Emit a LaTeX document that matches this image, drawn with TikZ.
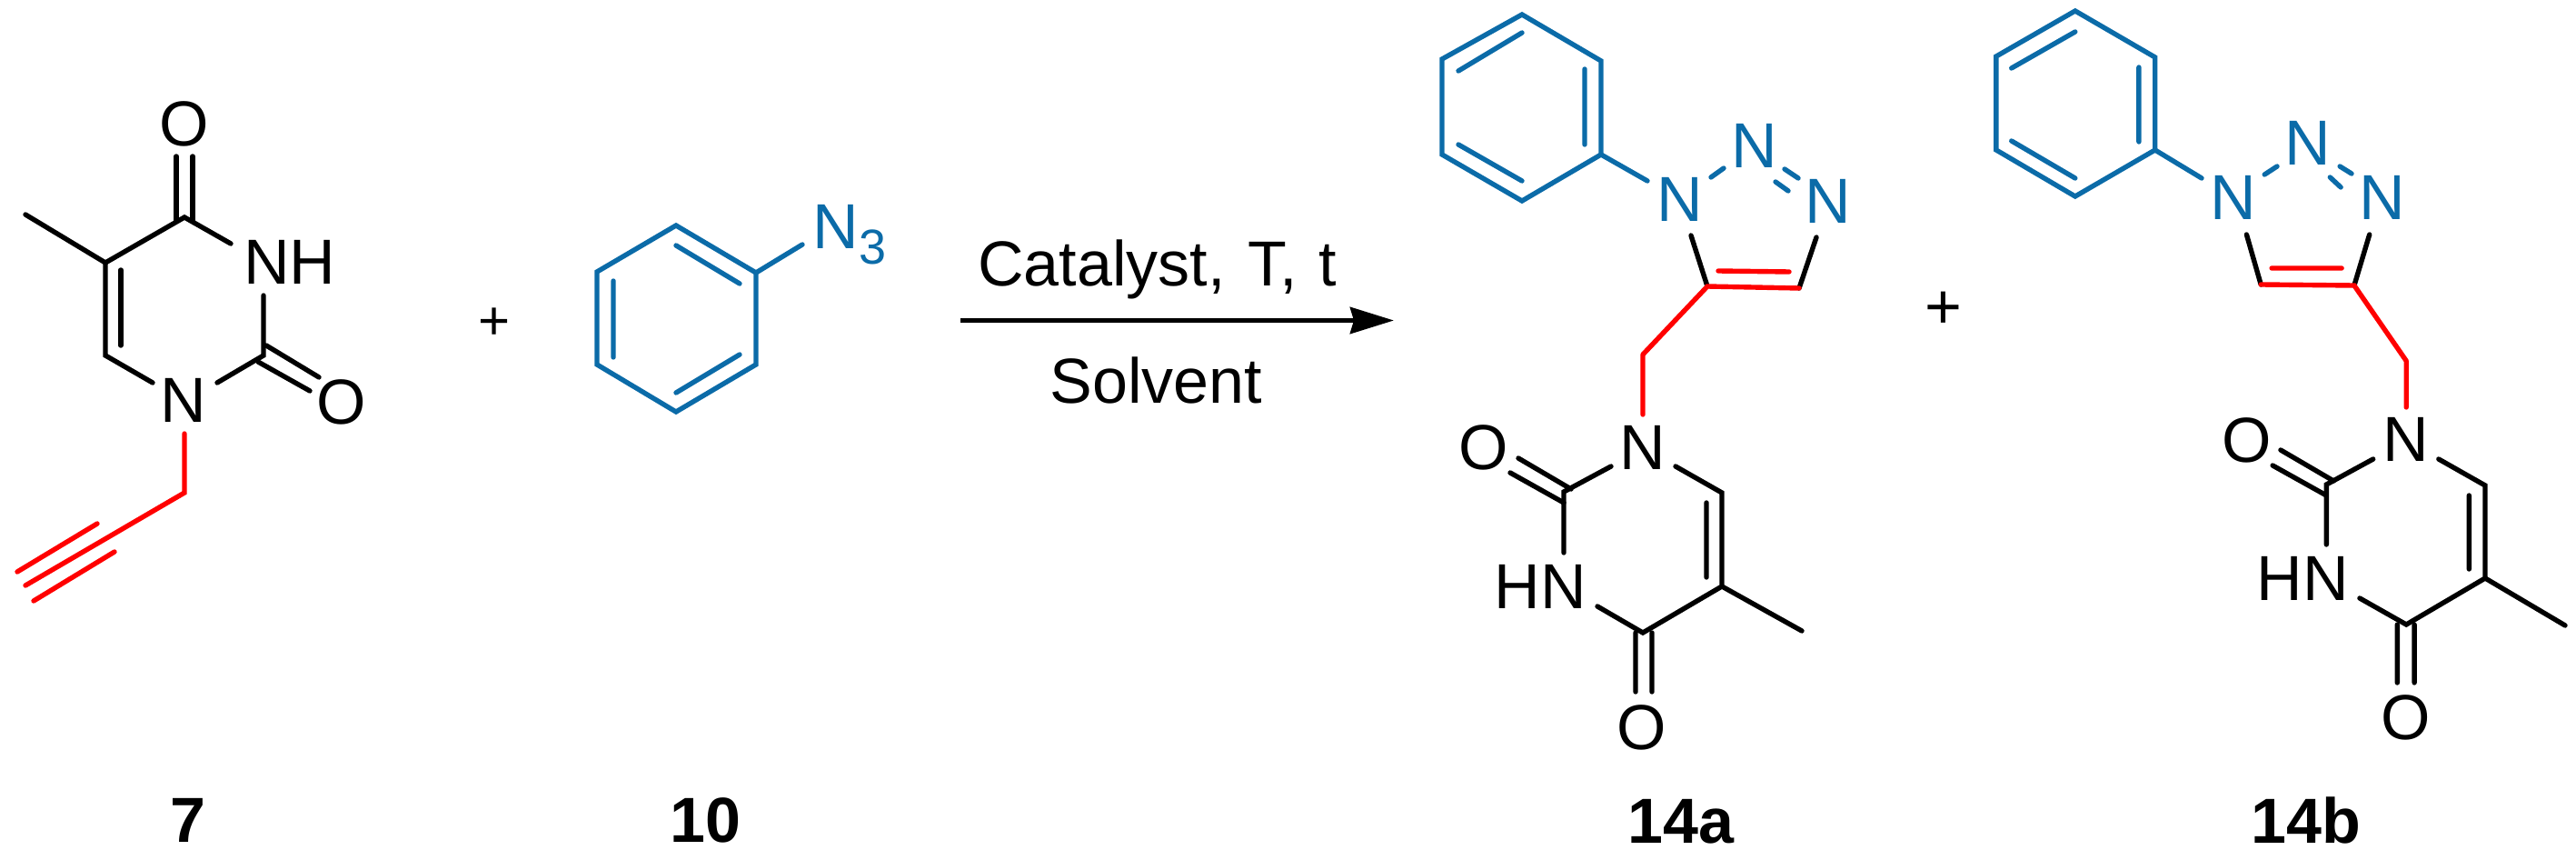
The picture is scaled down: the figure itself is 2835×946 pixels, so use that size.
\documentclass[tikz,border=0pt]{standalone}
\usepackage{fontspec}
\setmainfont{Liberation Sans}
\usetikzlibrary{arrows.meta}
\definecolor{azure}{HTML}{0B6BA8}
\definecolor{bondred}{HTML}{FF0000}
\tikzset{
  bond/.style={line width=2.7pt,line cap=round,line join=miter,black},
  bluebond/.style={bond,azure},
  redbond/.style={bond,bondred},
  atom/.style={inner sep=0pt,font=\fontsize{35}{35}\selectfont},
  blueatom/.style={atom,text=azure},
  label/.style={inner sep=0pt,anchor=base,font=\fontsize{35}{35}\selectfont\bfseries},
  cond/.style={inner sep=0pt,font=\fontsize{35}{35}\selectfont},
  plus/.style={inner sep=0pt}
}
\newcommand{\pt}[3]{\coordinate (#1) at (#2,#3);}
\begin{document}
\begin{tikzpicture}[x=0.5pt,y=-0.5pt]
\path[use as bounding box] (0,0) rectangle (2835,946);
% ---------- 7
\pt{aC4}{203}{239}\pt{aC5}{116}{289}\pt{aMe}{28}{236}\pt{aC6}{116}{391}\pt{aC2}{290}{391}
\pt{aC4n}{254}{268}\pt{aC2n}{290}{325}\pt{aC2m}{239}{421}\pt{aC6m}{168}{421}
\pt{aO4a}{194}{172}\pt{aO4aa}{194}{243}\pt{aO4b}{212}{172}\pt{aO4bb}{212}{243}
\pt{aD1}{133}{297}\pt{aD2}{133}{380}
\pt{aOa1}{293}{380}\pt{aOa2}{351}{415}\pt{aOb1}{284}{398}\pt{aOb2}{341}{430}
\pt{aNb}{203}{477}\pt{aCH}{203}{542}\pt{aAl}{28}{644}
\pt{aT1}{107}{576}\pt{aT2}{19}{629}\pt{aT3}{126}{607}\pt{aT4}{37}{661}
\node[atom] (aO4) at (203,136) {O};
\node[atom] (aN) at (202,440) {N};
\node[atom] (aO2) at (376,442) {O};
\node[atom,anchor=west] (aNH) at (268,288) {NH};
\draw[bond] (aMe)--(aC5)--(aC4)--(aC4n);
\draw[bond] (aC5)--(aC6)--(aC6m);
\draw[bond] (aD1)--(aD2);
\draw[bond] (aC2n)--(aC2)--(aC2m);
\draw[bond] (aO4a)--(aO4aa) (aO4b)--(aO4bb);
\draw[bond] (aOa1)--(aOa2) (aOb1)--(aOb2);
\draw[redbond] (aNb)--(aCH)--(aAl);
\draw[redbond] (aT1)--(aT2) (aT3)--(aT4);
% ---------- plus
\node[plus,font=\fontsize{30}{30}\selectfont] (p1) at (544.5,356.5) {+};
% ---------- 10
\pt{b1}{744}{248}\pt{b2}{832}{300}\pt{b3}{832}{401}\pt{b4}{744}{453}\pt{b5}{657}{401}\pt{b6}{657}{299}
\pt{bi1}{744}{270}\pt{bi2}{814}{312}\pt{bi3}{675}{309}\pt{bi4}{675}{393}\pt{bi5}{744}{432}\pt{bi6}{814}{390}
\pt{bN}{883}{269}
\draw[bluebond] (b1)--(b2)--(b3)--(b4)--(b5)--(b6)--cycle;
\draw[bluebond] (bi1)--(bi2) (bi3)--(bi4) (bi5)--(bi6) (b2)--(bN);
\node[blueatom,anchor=west] (bN3) at (894,249) {N};
\node[blueatom,anchor=west,font=\fontsize{27}{27}\selectfont] (bN3s) at (945,272) {3};
% ---------- arrow
\pt{ar1}{1057}{352.5}\pt{ar2}{1534}{352.5}
\draw[line width=2.8pt,-{Stealth[length=24pt,width=14.5pt,inset=2pt]}] (ar1)--(ar2);
\node[cond,anchor=base west] (cat) at (1076,315) {Catalyst,\hspace{12.2pt}T,\hspace{12.2pt}t};
\node[cond,anchor=base] (sol) at (1272.5,443) {Solvent};
% ---------- 14a
\pt{c1}{1675}{16}\pt{c2}{1762}{67}\pt{c3}{1762}{170}\pt{c4}{1675}{221}\pt{c5}{1587}{170}\pt{c6}{1587}{65}
\pt{ci1}{1605}{78}\pt{ci2}{1675}{36}\pt{ci3}{1744}{76}\pt{ci4}{1744}{159}\pt{ci5}{1605}{159}\pt{ci6}{1675}{199}
\pt{cPN}{1813}{199}
\pt{cd1}{1883}{195}\pt{cd2}{1897}{185}\pt{cd3}{1964}{186}\pt{cd4}{1979}{196}\pt{cd5}{1954}{200}\pt{cd6}{1968}{210}
\pt{cN1e}{1861}{259}\pt{cC5}{1879}{315}\pt{cC4}{1980}{317}\pt{cN3e}{1999}{261}
\pt{cr1}{1891}{298}\pt{cr2}{1969}{299}
\pt{cCH}{1808}{390}\pt{cNt}{1808}{456}
\pt{cC2}{1721}{541}\pt{cN2e}{1773}{513}\pt{cN6e}{1844}{513}\pt{cC6}{1895}{542}\pt{cC5r}{1895}{645}
\pt{ci7}{1878}{553}\pt{ci8}{1878}{635}\pt{cC4r}{1808}{696}\pt{cHNe}{1758}{667}\pt{cC2n}{1721}{608}\pt{cMe}{1983}{694}
\pt{cOa1}{1671}{504}\pt{cOa2}{1729}{538}\pt{cOb1}{1662}{520}\pt{cOb2}{1721}{553}
\pt{cOc1}{1800}{696}\pt{cOc2}{1800}{761}\pt{cOd1}{1818}{696}\pt{cOd2}{1818}{761}
\node[blueatom] (cN1) at (1849,219.5) {N};
\node[blueatom] (cN2) at (1931,160.5) {N};
\node[blueatom] (cN3) at (2012,221.5) {N};
\node[atom] (cN) at (1808,492) {N};
\node[atom] (cO2) at (1633,492) {O};
\node[atom,anchor=east] (cHN) at (1746,645) {HN};
\node[atom] (cO4) at (1807,800) {O};
\draw[bluebond] (c1)--(c2)--(c3)--(c4)--(c5)--(c6)--cycle;
\draw[bluebond] (ci1)--(ci2) (ci3)--(ci4) (ci5)--(ci6) (c3)--(cPN);
\draw[bluebond] (cd1)--(cd2) (cd3)--(cd4) (cd5)--(cd6);
\draw[bond] (cN1e)--(cC5) (cC4)--(cN3e);
\draw[redbond] (cCH)--(cC5)--(cC4) (cr1)--(cr2) (cCH)--(cNt);
\draw[bond] (cN2e)--(cC2)--(cC2n) (cN6e)--(cC6)--(cC5r)--(cC4r)--(cHNe) (cC5r)--(cMe) (ci7)--(ci8);
\draw[bond] (cOa1)--(cOa2) (cOb1)--(cOb2) (cOc1)--(cOc2) (cOd1)--(cOd2);
% plus 2
\node[plus,font=\fontsize{35}{35}\selectfont] (p2) at (2139,341) {+};
% ---------- 14b
\pt{d1}{2283.8}{12}\pt{d2}{2371.7}{63}\pt{d3}{2371.7}{165}\pt{d4}{2283.8}{216}\pt{d5}{2196.9}{165}\pt{d6}{2196.9}{62}
\pt{di1}{2213.7}{75}\pt{di2}{2283.8}{35}\pt{di3}{2353.9}{74}\pt{di4}{2353.9}{156}\pt{di5}{2213.7}{155}\pt{di6}{2283.8}{196}
\pt{dPN}{2423}{196}
\pt{dd1}{2492.2}{192}\pt{dd2}{2506}{183}\pt{dd3}{2575.1}{183}\pt{dd4}{2588}{191}\pt{dd5}{2564.3}{195}\pt{dd6}{2576.1}{206}
\pt{dN1e}{2472.4}{258}\pt{dC5}{2488.2}{313}\pt{dC4}{2590.9}{314}\pt{dN3e}{2607.7}{258}
\pt{dr1}{2500.1}{295}\pt{dr2}{2577.1}{295}
\pt{dCH}{2648.2}{397}\pt{dNt}{2648.2}{448}
\pt{dC2}{2560.3}{533}\pt{dN2e}{2611.7}{505}\pt{dN6e}{2683.8}{505}\pt{dC6}{2735}{534}\pt{dC5r}{2735}{636}
\pt{di7}{2717.3}{545}\pt{di8}{2717.3}{626}\pt{dC4r}{2648.2}{687}\pt{dHNe}{2596.9}{658}\pt{dC2n}{2560.3}{599}\pt{dMe}{2823}{688}
\pt{dOa1}{2509.9}{495}\pt{dOa2}{2568.2}{529}\pt{dOb1}{2501.1}{512}\pt{dOb2}{2560.3}{545}
\pt{dOc1}{2638.3}{687}\pt{dOc2}{2638.3}{751}\pt{dOd1}{2657.1}{687}\pt{dOd2}{2657.1}{751}
\node[blueatom] (dN1) at (2457.6,217) {N};
\node[blueatom] (dN2) at (2539.6,157) {N};
\node[blueatom] (dN3) at (2621.6,217) {N};
\node[atom] (dN) at (2648.2,483) {N};
\node[atom] (dO2) at (2472.4,484) {O};
\node[atom,anchor=east] (dHN) at (2585,636) {HN};
\node[atom] (dO4) at (2647.2,789) {O};
\draw[bluebond] (d1)--(d2)--(d3)--(d4)--(d5)--(d6)--cycle;
\draw[bluebond] (di1)--(di2) (di3)--(di4) (di5)--(di6) (d3)--(dPN);
\draw[bluebond] (dd1)--(dd2) (dd3)--(dd4) (dd5)--(dd6);
\draw[bond] (dN1e)--(dC5) (dC4)--(dN3e);
\draw[redbond] (dCH)--(dC4)--(dC5) (dr1)--(dr2) (dCH)--(dNt);
\draw[bond] (dN2e)--(dC2)--(dC2n) (dN6e)--(dC6)--(dC5r)--(dC4r)--(dHNe) (dC5r)--(dMe) (di7)--(di8);
\draw[bond] (dOa1)--(dOa2) (dOb1)--(dOb2) (dOc1)--(dOc2) (dOd1)--(dOd2);
% ---------- compound labels
\node[label] (L7) at (207,926) {7};
\node[label] (L10) at (776,926) {10};
\node[label] (L14a) at (1850,927) {14a};
\node[label] (L14b) at (2538,927) {14b};
\end{tikzpicture}
\end{document}
